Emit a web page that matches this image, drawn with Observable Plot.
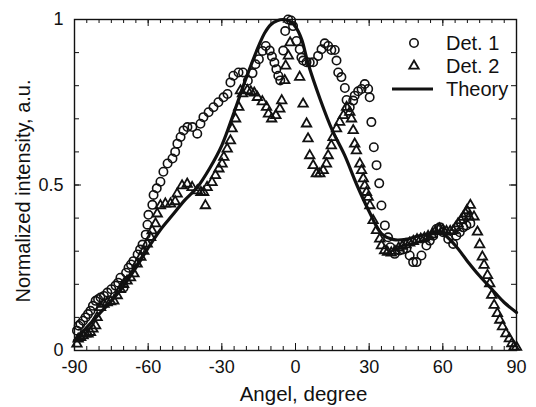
<!DOCTYPE html>
<html>
<head>
<meta charset="utf-8">
<script src="https://cdn.jsdelivr.net/npm/d3@7"></script>
<script src="https://cdn.jsdelivr.net/npm/@observablehq/plot@0.6"></script>
<style>
  html, body { margin: 0; padding: 0; background: #fff; }
  #wrap { position: relative; width: 536px; height: 407px; font-family: "Liberation Sans", Arial, sans-serif; }
  #legend { position: absolute; left: 0; top: 0; pointer-events: none; }
</style>
</head>
<body>
<div id="wrap"></div>
<script>
// ---- data ----
const det1Angle = [-89,-88.3,-87.6,-86.5,-85.5,-84.5,-83.5,-82.5,-81.4,-80.4,-79.4,-78,-76.6,-75,-73.3,-72.2,-71.3,-70,-69,-68,-67,-66,-64.3,-63.3,-62.3,-61,-60.3,-59.9,-58.3,-57.8,-56.5,-55,-53.8,-52.1,-50.1,-49,-48.1,-46.8,-45.6,-44,-42,-40,-38.7,-37.5,-35.4,-33.4,-31.4,-29.3,-27.7,-26.5,-25.3,-23.2,-21.4,-19.4,-17.5,-16.3,-14.9,-13.4,-12.1,-10.5,-9.6,-8.6,-7.8,-7,-6.2,-5,-4.2,-3,-1.8,-1,0.4,1.7,2.4,3.1,4.5,5.8,7.2,9.2,10.6,11.9,13.3,14.6,16,16.7,17.4,18.7,20.1,20.8,22.1,23.5,24.1,25.5,26.9,28.2,29.6,30.2,30.9,31.9,33,34.1,35,36.4,37.7,38.6,40.4,42.4,43.8,45.2,46.5,47.9,49.3,51.3,53.3,54.7,56.1,57.4,58.7,60.1,62.2,64.2,65.5,66.9,68.3,69.6,71.2];
const det1Value = [0.06,0.075,0.08,0.09,0.10,0.11,0.12,0.135,0.15,0.155,0.16,0.165,0.175,0.185,0.196,0.205,0.22,0.19,0.235,0.25,0.26,0.27,0.29,0.305,0.32,0.35,0.38,0.41,0.44,0.47,0.49,0.51,0.54,0.565,0.58,0.60,0.625,0.645,0.665,0.675,0.675,0.655,0.685,0.705,0.72,0.735,0.75,0.765,0.775,0.81,0.83,0.84,0.84,0.815,0.838,0.865,0.88,0.905,0.92,0.906,0.888,0.87,0.85,0.83,0.816,0.906,0.965,1.0,0.997,0.98,0.935,0.91,0.885,0.876,0.871,0.87,0.871,0.89,0.91,0.928,0.92,0.908,0.908,0.876,0.84,0.826,0.793,0.757,0.735,0.755,0.77,0.783,0.79,0.805,0.79,0.765,0.69,0.614,0.56,0.505,0.438,0.378,0.342,0.312,0.292,0.302,0.305,0.308,0.287,0.267,0.267,0.287,0.317,0.332,0.347,0.367,0.372,0.357,0.337,0.322,0.347,0.357,0.372,0.378,0.384];

const det2Angle = [-89,-88.5,-87.5,-86.5,-85.5,-84.5,-83.5,-82.5,-81.4,-80.8,-79.4,-78,-76.7,-75.3,-74,-72.6,-71.3,-70,-68.6,-67.2,-65.8,-64.5,-63,-61.8,-60.4,-59,-58.4,-57,-56.3,-55,-53,-50.9,-49,-48.2,-46.2,-44.1,-42.1,-40,-38.5,-37.4,-36.7,-36,-34,-32.6,-31.2,-29.9,-29.2,-27.8,-26.5,-25.8,-24.4,-23.1,-22.4,-21.6,-19.6,-18.2,-16.8,-15.5,-13.5,-11.8,-11,-9.7,-8,-6.4,-5.6,-4.4,-4,-2.9,-2.2,1.7,3.1,4.5,5.1,5.8,7.2,8.5,9.9,11.3,12.6,13.3,14.6,15.3,16.7,18,19.5,20.8,22.1,22.8,23.5,24.1,24.8,26.2,26.9,27.6,28.2,28.9,29.6,30.3,31.6,33,34.3,35,36.3,37.5,39,40.5,42,43.5,45,46.5,48,49.5,51,52.5,54,55.5,57,58.6,60,61.5,63,64.2,65.2,66.2,67.3,68.3,69.3,69.8,70.7,71.2,72.7,74.1,75,76.1,76.8,78.2,79.1,79.9,80.9,82.2,83.2,84.3,85.7,87.1,88.1,89,90];
const det2Value = [0.02,0.035,0.04,0.045,0.05,0.05,0.055,0.065,0.075,0.10,0.13,0.14,0.145,0.148,0.15,0.166,0.185,0.20,0.21,0.22,0.232,0.262,0.282,0.30,0.322,0.342,0.362,0.383,0.413,0.438,0.443,0.443,0.45,0.473,0.498,0.503,0.493,0.483,0.478,0.478,0.438,0.493,0.508,0.529,0.549,0.564,0.584,0.609,0.634,0.67,0.70,0.735,0.785,0.776,0.786,0.782,0.778,0.765,0.752,0.735,0.715,0.70,0.71,0.73,0.755,0.816,0.86,0.89,0.93,0.826,0.745,0.685,0.64,0.589,0.559,0.534,0.534,0.544,0.564,0.589,0.619,0.644,0.67,0.69,0.71,0.735,0.72,0.70,0.665,0.624,0.604,0.564,0.544,0.519,0.498,0.478,0.463,0.438,0.393,0.363,0.337,0.317,0.302,0.297,0.295,0.30,0.31,0.315,0.32,0.325,0.33,0.335,0.337,0.34,0.345,0.35,0.36,0.368,0.365,0.36,0.36,0.362,0.372,0.383,0.393,0.403,0.413,0.423,0.404,0.439,0.404,0.358,0.32,0.283,0.258,0.227,0.202,0.167,0.137,0.112,0.092,0.072,0.051,0.036,0.021,0.011,0.01];

const theoryAngle = [-90,-85,-80,-75,-70,-65,-60,-55,-50,-45,-40,-35,-30,-25,-20,-15,-12.5,-10,-7.5,-5,-2.5,0,2.5,5,10,15,20,25,30,35,40,45,50,55,60,65,70,75,80,85,90];
const theoryValue = [0.03,0.07,0.11,0.15,0.195,0.25,0.31,0.365,0.41,0.455,0.493,0.55,0.62,0.72,0.825,0.92,0.96,0.985,0.996,1.0,0.995,0.978,0.94,0.87,0.76,0.665,0.59,0.5,0.42,0.353,0.335,0.336,0.346,0.352,0.352,0.318,0.27,0.225,0.185,0.145,0.115];

const xTickLabels = [-90,-60,-30,0,30,60,90];
const yTickLabels = [0,0.5,1];
const legendLabels = ["Det. 1","Det. 2","Theory"];
const xTitle = "Angel, degree";
const yTitle = "Normalized intensity, a.u.";

// ---- tables ----
const det1 = det1Angle.map((a,i)=>({a, v: det1Value[i]}));
const det2 = det2Angle.map((a,i)=>({a, v: det2Value[i]}));
const theory = theoryAngle.map((a,i)=>({a, v: theoryValue[i]}));

const W = 536, H = 407, mL = 74, mR = 20, mT = 19, mB = 57;
const iW = W - mL - mR, iH = H - mT - mB;
const xMinor = d3.range(-90, 91, 5);
const yMinor = d3.range(0, 1.0001, 0.1).map(d => +d.toFixed(1));
const ink = "#111";

const chart = Plot.plot({
  width: W, height: H,
  marginLeft: mL, marginRight: mR, marginTop: mT, marginBottom: mB,
  style: { fontFamily: "'Liberation Sans', Arial, sans-serif", background: "white", color: ink },
  x: { domain: [-90, 90], axis: null },
  y: { domain: [0, 1], axis: null },
  marks: [
    // inward ticks
    Plot.tickX(xMinor, { x: d => d, insetTop: iH - 4, stroke: ink, strokeWidth: 1 }),
    Plot.tickX(xTickLabels, { x: d => d, insetTop: iH - 7, stroke: ink, strokeWidth: 1 }),
    Plot.tickX(xMinor, { x: d => d, insetBottom: iH - 4, stroke: ink, strokeWidth: 1 }),
    Plot.tickX(xTickLabels, { x: d => d, insetBottom: iH - 7, stroke: ink, strokeWidth: 1 }),
    Plot.tickY(yMinor, { y: d => d, insetRight: iW - 5, stroke: ink, strokeWidth: 1 }),
    Plot.tickY(yTickLabels, { y: d => d, insetRight: iW - 7, stroke: ink, strokeWidth: 1 }),
    Plot.tickY(yMinor, { y: d => d, insetLeft: iW - 5, stroke: ink, strokeWidth: 1 }),
    Plot.tickY(yTickLabels, { y: d => d, insetLeft: iW - 7, stroke: ink, strokeWidth: 1 }),
    Plot.axisX(xTickLabels, { tickSize: 0, tickPadding: 10, fontSize: 18, tickFormat: d => String(d), label: null }),
    Plot.axisY(yTickLabels, { tickSize: 0, tickPadding: 11, fontSize: 18, tickFormat: d => String(d), label: null }),
    Plot.text([xTitle], { text: d => d, frameAnchor: "bottom", textAnchor: "middle", lineAnchor: "middle", dx: 8, dy: 44, fontSize: 20.5, fill: ink }),
    Plot.text([yTitle], { text: d => d, frameAnchor: "left", textAnchor: "middle", lineAnchor: "middle", dx: -51, dy: 6, rotate: -90, fontSize: 20, fill: ink }),
    Plot.line(theory, { x: "a", y: "v", curve: "catmull-rom", stroke: ink, strokeWidth: 3.2 }),
    Plot.dot(det1, { x: "a", y: "v", r: 4.2, symbol: "circle", stroke: ink, strokeWidth: 1.6, fill: "none" }),
    Plot.dot(det2, { x: "a", y: "v", r: 3.5, symbol: "triangle", stroke: ink, strokeWidth: 1.8, fill: "none" }),
    Plot.frame({ stroke: ink, strokeWidth: 1.4 })
  ]
});

const wrap = document.getElementById("wrap");
wrap.appendChild(chart);

// legend overlay
const ns = "http://www.w3.org/2000/svg";
const leg = document.createElementNS(ns, "svg");
leg.setAttribute("id", "legend");
leg.setAttribute("width", W);
leg.setAttribute("height", H);
const rows = [43, 66, 89];
const lx = 414, tx = 446;
function el(tag, attrs) { const e = document.createElementNS(ns, tag); for (const k in attrs) e.setAttribute(k, attrs[k]); leg.appendChild(e); return e; }
el("circle", { cx: lx, cy: rows[0], r: 4.2, fill: "none", stroke: ink, "stroke-width": 1.6 });
el("path", { d: d3.symbol(d3.symbolTriangle, Math.PI * 3.5 * 3.5)(), transform: `translate(${lx},${rows[1]})`, fill: "none", stroke: ink, "stroke-width": 1.8 });
el("line", { x1: 392, x2: 433, y1: rows[2], y2: rows[2], stroke: ink, "stroke-width": 3.2 });
legendLabels.forEach((t, i) => {
  const e = el("text", { x: tx, y: rows[i], dy: "0.35em", "font-size": 20, fill: ink, "font-family": "'Liberation Sans', Arial, sans-serif" });
  e.textContent = t;
});
wrap.appendChild(leg);
</script>
</body>
</html>
